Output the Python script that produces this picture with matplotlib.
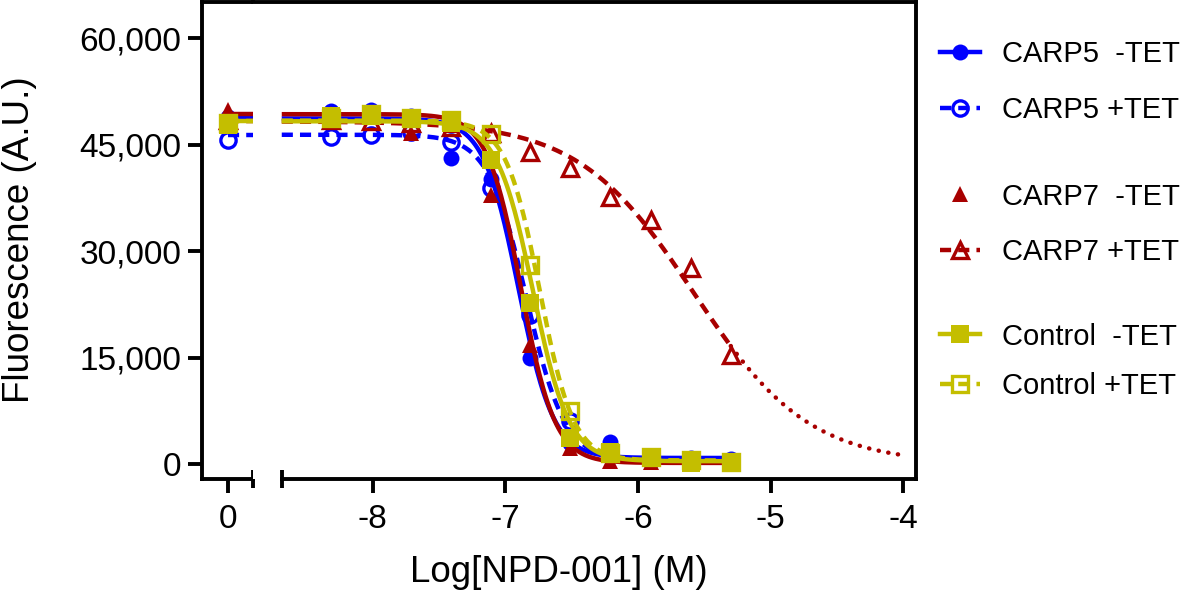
import numpy as np
import matplotlib
matplotlib.use('Agg')
import matplotlib.pyplot as plt
from matplotlib.lines import Line2D
import matplotlib.transforms as mtransforms

plt.rcParams['font.family'] = ['Liberation Sans', 'DejaVu Sans']

# ---------------- data ----------------
log_conc = [-8.31, -8.01, -7.71, -7.41, -7.11, -6.81, -6.51, -6.21, -5.90, -5.60, -5.30]
zero_pos = 0

carp5_minus_0 = 48900
carp5_minus = [49800, 49900, 49000, 43100, 40200, 14900, 3000, 3140, 500, 850, 700]
carp5_plus_0 = 45600
carp5_plus = [46140, 46380, 46760, 45440, 38910, 21000, 6000, 1500, 600, 500, 400]
carp7_minus_0 = 49900
carp7_minus = [49300, 49000, 46700, 47800, 37900, 16780, 2200, 400, 300, 200, 200]
carp7_plus_0 = 48500
carp7_plus = [48500, 48300, 48000, 47500, 46600, 44030, 41680, 37690, 34400, 27590, 15370]
control_minus_0 = 47800
control_minus = [48990, 48990, 48730, 48030, 42860, 22650, 3700, 1730, 800, 100, 100]
control_plus_0 = 48000
control_plus = [48800, 49300, 48800, 48500, 46500, 28060, 7500, 1500, 1000, 500, 300]

# 4PL fit parameters: top, bottom, logIC50, hill
fit_carp5_minus = (48700, 850, -6.90, 3.3)
fit_carp5_plus = (46400, 500, -6.84, 3.0)
fit_carp7_minus = (49300, 150, -6.88, 3.4)
fit_carp7_plus = (48300, 0, -5.58, 1.0)
fit_control_minus = (48300, 400, -6.79, 3.2)
fit_control_plus = (48400, 500, -6.74, 3.4)

labels = ['CARP5  -TET', 'CARP5 +TET', 'CARP7  -TET', 'CARP7 +TET', 'Control  -TET', 'Control +TET']
y_ticks = [0, 15000, 30000, 45000, 60000]
y_tick_labels = ['0', '15,000', '30,000', '45,000', '60,000']
x_ticks = [-8, -7, -6, -5, -4]
x_tick_labels = ['-8', '-7', '-6', '-5', '-4']

# ---------------- style ----------------
BLUE = '#0000FF'
RED = '#A80000'
YEL = '#C4BE00'
LW = 3.2
DASH = (2.5, 1.6)

def fourpl(x, p):
    top, bottom, lic, h = p
    x = np.asarray(x, dtype=float)
    return bottom + (top - bottom) / (1 + 10 ** ((x - lic) * h))

W, H = 1181, 591
fig = plt.figure(figsize=(W / 100, H / 100), dpi=100)

bot = 1 - 478.5 / H
top = 1 - 1.5 / H
hgt = top - bot
axL = fig.add_axes([202.3 / W, bot, 50.4 / W, hgt])
axR = fig.add_axes([252.7 / W, bot, (916 - 252.7) / W, hgt], sharey=axL)

xl_min, xl_max = -0.196, 0.184
xr_min, xr_max = -8.903, -3.904
xr_start = -8.684
ymin, ymax = -2044, 65180

series = [
    (carp5_minus_0, carp5_minus, fit_carp5_minus, BLUE, 'o', True, 'solid', 11.5),
    (carp5_plus_0, carp5_plus, fit_carp5_plus, BLUE, 'o', False, 'dash', 11),
    (carp7_minus_0, carp7_minus, fit_carp7_minus, RED, '^', True, 'solid', 12),
    (carp7_plus_0, carp7_plus, fit_carp7_plus, RED, '^', False, 'dash', 12),
    (control_minus_0, control_minus, fit_control_minus, YEL, 's', True, 'solid', 13),
    (control_plus_0, control_plus, fit_control_plus, YEL, 's', False, 'dash', 12),
]

handles = []
for i, (v0, vals, fit, col, mk, filled, ls, ms) in enumerate(series):
    z = 3 + i
    lkw = dict(color=col, lw=LW, zorder=z, solid_capstyle='butt')
    if ls == 'dash':
        lkw.update(linestyle=(0, DASH), dash_capstyle='butt')
    mkw = dict(marker=mk, markersize=ms, color=col, linestyle='none', zorder=z + 0.5,
               clip_on=False)
    if filled:
        mkw.update(markerfacecolor=col, markeredgecolor=col, markeredgewidth=0)
    else:
        mkw.update(markerfacecolor='none', markeredgecolor=col, markeredgewidth=2.4)
    # left (zero) panel: plateau from zero point to break
    axL.plot([zero_pos, xl_max], [fit[0], fit[0]], **lkw)
    axL.plot([zero_pos], [v0], **mkw)
    # right panel: fitted curve over data range
    xs = np.linspace(xr_start, log_conc[-1], 400)
    axR.plot(xs, fourpl(xs, fit), **lkw)
    if i == 3:
        xe = np.linspace(log_conc[-1], -4.0, 200)
        axR.plot(xe, fourpl(xe, fit), color=col, lw=LW, zorder=z,
                 linestyle=(0, (0.05, 2.15)), dash_capstyle='round')
    axR.plot(log_conc, vals, **mkw)
    hl = Line2D([], [], color=col, lw=LW, marker=mk, markersize=ms,
                markerfacecolor=mkw['markerfacecolor'], markeredgecolor=col,
                markeredgewidth=mkw['markeredgewidth'],
                linestyle=('none' if i == 2 else ((0, DASH) if ls == 'dash' else '-')))
    handles.append(hl)

SPW = 2.8
for ax in (axL, axR):
    ax.set_ylim(ymin, ymax)
    for s in ax.spines.values():
        s.set_linewidth(SPW)
    ax.tick_params(width=SPW, length=10, labelsize=24, direction='out')

axL.set_xlim(xl_min, xl_max)
axL.spines['right'].set_visible(False)
axL.set_xticks([0])
axL.set_xticklabels(['0'])
axL.set_yticks(y_ticks)
axL.set_yticklabels(y_tick_labels)
axL.tick_params(axis='x', pad=8)
axL.tick_params(axis='y', pad=5)

axR.set_xlim(xr_min, xr_max)
axR.spines['left'].set_visible(False)
axR.spines['bottom'].set_bounds(xr_start, xr_max)
axR.set_xticks(x_ticks)
axR.set_xticklabels(x_tick_labels)
axR.tick_params(axis='x', pad=8)
axR.tick_params(axis='y', left=False, labelleft=False)

# break caps
axL.plot([1], [0], transform=axL.transAxes, marker='|', markersize=13.5,
         markeredgewidth=SPW, color='black', clip_on=False, zorder=20)
trR = mtransforms.blended_transform_factory(axR.transData, axR.transAxes)
axR.plot([xr_start], [0], transform=trR, marker='|', markersize=13.5,
         markeredgewidth=SPW, color='black', clip_on=False, zorder=20)

fig.text(20 / W, 1 - 240 / H, 'Fluorescence (A.U.)', rotation=90, ha='center',
         va='center', fontsize=26.5)
fig.text(559 / W, 1 - 572 / H, 'Log[NPD-001] (M)', ha='center', va='center',
         fontsize=26.5)

groups = [(0, 2, 82), (2, 4, 224.5), (4, 6, 361.5)]
spacings = [0.95, 0.95, 0.75]
for (a, b, yc), sp in zip(groups, spacings):
    fig.legend(handles[a:b], labels[a:b], loc='center left',
               bbox_to_anchor=(940 / W, 1 - yc / H), frameon=False, fontsize=21,
               handlelength=1.37, handletextpad=0.75, borderpad=0, borderaxespad=0,
               labelspacing=sp)

fig.savefig('out.png', dpi=100)
